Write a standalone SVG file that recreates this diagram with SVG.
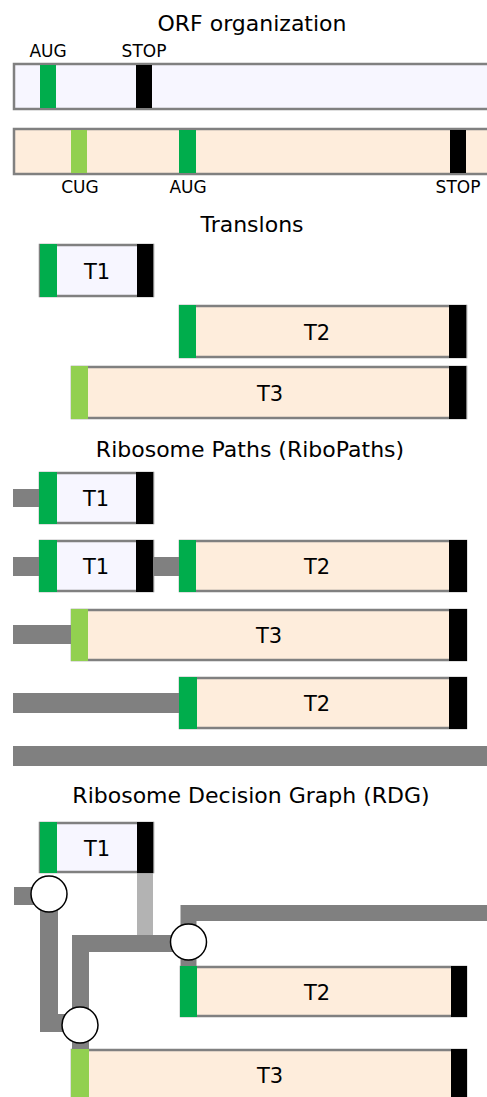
<svg xmlns="http://www.w3.org/2000/svg" width="487" height="1097" viewBox="0 0 487 1097">
<style>
text{font-family:"DejaVu Sans","Liberation Sans",sans-serif;fill:#000;text-anchor:middle}
.title{font-size:22px}
.lab{font-size:17px}
.tl{font-size:21px}
.b1{fill:#F7F6FF;stroke:#808080;stroke-width:2.5}
.b2{fill:#FEEDDC;stroke:#808080;stroke-width:2.5}
.aug{fill:#00AD4C}
.cug{fill:#92D050}
.stop{fill:#000}
.bar{fill:#808080}
.path{fill:none;stroke:#808080;stroke-linejoin:miter}
.node{fill:#fff;stroke:#000;stroke-width:1.5}
</style>
<rect width="487" height="1097" fill="#fff"/>

<g id="orf">
<text class="title" x="252" y="31">ORF organization</text>
<g id="orf1">
<rect class="b1" x="14" y="64" width="480" height="45"/>
<rect class="aug" x="40" y="65" width="16" height="43"/>
<rect class="stop" x="136" y="65" width="16" height="43"/>
<text class="lab" x="48" y="57">AUG</text>
<text class="lab" x="144" y="57">STOP</text>
</g>
<g id="orf2">
<rect class="b2" x="14" y="129" width="480" height="45"/>
<rect class="cug" x="71" y="130" width="16" height="43"/>
<rect class="aug" x="179" y="130" width="17" height="43"/>
<rect class="stop" x="450" y="130" width="16" height="43"/>
<text class="lab" x="80" y="193">CUG</text>
<text class="lab" x="188" y="193">AUG</text>
<text class="lab" x="458" y="193">STOP</text>
</g>
</g>

<g id="translons">
<text class="title" x="252" y="232">Translons</text>
<g id="tr-T1">
<rect class="b1" x="40" y="245" width="113" height="51"/>
<rect class="aug" x="40" y="244" width="17" height="53"/>
<rect class="stop" x="137" y="244" width="16" height="53"/>
<text class="tl" x="97" y="279">T1</text>
</g>
<g id="tr-T2">
<rect class="b2" x="180" y="306" width="286" height="51"/>
<rect class="aug" x="179" y="305" width="17" height="53"/>
<rect class="stop" x="449" y="305" width="17" height="53"/>
<text class="tl" x="317" y="340">T2</text>
</g>
<g id="tr-T3">
<rect class="b2" x="72" y="367" width="394" height="51"/>
<rect class="aug cug" x="71" y="366" width="17" height="53"/>
<rect class="stop" x="449" y="366" width="17" height="53"/>
<text class="tl" x="270" y="401">T3</text>
</g>
</g>

<g id="ribopaths">
<text class="title" x="250" y="457">Ribosome Paths (RiboPaths)</text>
<g id="connectors-paths">
<rect class="bar" x="13" y="489" width="27" height="18"/>
<rect class="bar" x="13" y="557" width="27" height="19"/>
<rect class="bar" x="153" y="557" width="27" height="19"/>
<rect class="bar" x="13" y="625" width="58" height="19"/>
<rect class="bar" x="13" y="693" width="166" height="20"/>
<rect class="bar" x="13" y="746" width="477" height="20"/>
</g>
<g id="rp1-T1">
<rect class="b1" x="40" y="473" width="113" height="50"/>
<rect class="aug" x="39" y="472" width="18" height="52"/>
<rect class="stop" x="136" y="472" width="17" height="52"/>
<text class="tl" x="96" y="506">T1</text>
</g>
<g id="rp2-T1">
<rect class="b1" x="40" y="541" width="113" height="50"/>
<rect class="aug" x="39" y="540" width="18" height="52"/>
<rect class="stop" x="136" y="540" width="17" height="52"/>
<text class="tl" x="96" y="574">T1</text>
</g>
<g id="rp2-T2">
<rect class="b2" x="180" y="541" width="286" height="50"/>
<rect class="aug" x="179" y="540" width="17" height="52"/>
<rect class="stop" x="449" y="540" width="18" height="52"/>
<text class="tl" x="317" y="574">T2</text>
</g>
<g id="rp3-T3">
<rect class="b2" x="72" y="610" width="394" height="50"/>
<rect class="cug" x="71" y="609" width="17" height="52"/>
<rect class="stop" x="449" y="609" width="18" height="52"/>
<text class="tl" x="269" y="643">T3</text>
</g>
<g id="rp4-T2">
<rect class="b2" x="180" y="678" width="286" height="50"/>
<rect class="aug" x="179" y="677" width="18" height="52"/>
<rect class="stop" x="449" y="677" width="18" height="52"/>
<text class="tl" x="317" y="711">T2</text>
</g>
</g>

<g id="rdg">
<text class="title" x="251" y="803">Ribosome Decision Graph (RDG)</text>
<g id="connectors">
<rect class="bar" x="14" y="887" width="35" height="18"/>
<path class="path" stroke-width="18" d="M49 894 V1023 H80"/>
<path class="path" stroke-width="17" d="M80.5 1049 V943.5 H188"/>
<path class="path" stroke-width="16" d="M188.5 966 V913 H490"/>
<rect x="137" y="873" width="16" height="62" fill="#B3B3B3"/>
</g>
<g id="rdg-T1">
<rect class="b1" x="40" y="823" width="113" height="49"/>
<rect class="aug" x="40" y="822" width="17" height="51"/>
<rect class="stop" x="137" y="822" width="16" height="51"/>
<text class="tl" x="97" y="856">T1</text>
</g>
<g id="rdg-T2">
<rect class="b2" x="181" y="967" width="285" height="49"/>
<rect class="aug" x="180" y="966" width="17" height="51"/>
<rect class="stop" x="451" y="966" width="16" height="51"/>
<text class="tl" x="317" y="1000">T2</text>
</g>
<g id="rdg-T3">
<rect class="b2" x="72" y="1050" width="394" height="60"/>
<rect class="cug" x="71" y="1049" width="18" height="60"/>
<rect class="stop" x="451" y="1049" width="16" height="60"/>
<text class="tl" x="270" y="1083">T3</text>
</g>
<g id="n1"><circle class="node" cx="49" cy="894" r="18"/></g>
<g id="n2"><circle class="node" cx="188.5" cy="942" r="18"/></g>
<g id="n3"><circle class="node" cx="80" cy="1025" r="18"/></g>
</g>
</svg>
